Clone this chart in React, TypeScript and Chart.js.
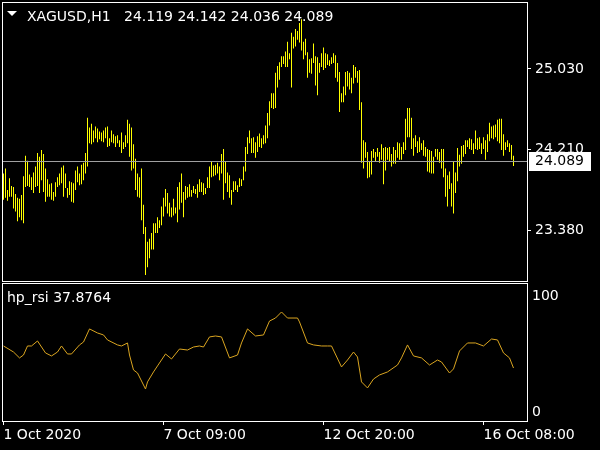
import React, { useEffect, useRef } from "react";
import { Chart, registerables } from "chart.js";

Chart.register(...registerables);

const symbol = "XAGUSD,H1";
// last bar: open, high, low, close
const lastBar = [24.119, 24.142, 24.036, 24.089];

const highs = [
  23.96, 24.01, 23.79, 23.91, 23.83, 23.82, 23.75, 23.71, 23.70, 23.74,
  23.93, 24.14, 24.09, 23.95, 23.92, 23.97, 24.03, 24.17, 24.13, 24.20,
  24.16, 24.01, 23.90, 23.85, 23.86, 23.77, 23.87, 23.92, 23.96, 24.02,
  24.04, 23.96, 23.81, 23.88, 23.87, 23.86, 23.99, 24.03, 23.96, 24.05,
  24.07, 24.17, 24.53, 24.43,
  24.47, 24.40, 24.44, 24.42, 24.39, 24.38, 24.40, 24.43, 24.44, 24.32,
  24.40, 24.36, 24.34, 24.35, 24.30, 24.38, 24.28, 24.35, 24.51, 24.47,
  24.43, 24.26, 24.11, 23.96, 23.92, 24.01, 23.64, 23.41, 23.26, 23.29,
  23.35, 23.45, 23.45, 23.51, 23.48, 23.62, 23.71, 23.80, 23.76, 23.66,
  23.61, 23.70, 23.61, 23.82,
  23.87, 23.96, 23.77, 23.83, 23.82, 23.85, 23.79, 23.83, 23.80, 23.85,
  23.90, 23.87, 23.86, 23.81, 23.92, 24.03, 24.08, 24.04, 24.05, 24.07,
  24.03, 24.16, 24.21, 24.08, 23.97, 23.94, 23.79, 23.88, 23.88, 23.84,
  23.91, 23.90, 24.03, 24.23, 24.33, 24.40, 24.32, 24.33, 24.28, 24.34,
  24.37, 24.32, 24.35, 24.45,
  24.58, 24.70, 24.78, 24.78, 24.99, 25.06, 25.10, 25.16, 25.16, 25.21,
  25.31, 25.19, 25.40, 25.36, 25.44, 25.42, 25.50, 25.54, 25.31, 25.34,
  25.20, 25.13, 25.14, 25.29, 25.16, 25.15, 25.09, 25.19, 25.25, 25.19,
  25.18, 25.12, 25.15, 25.19, 25.17, 25.09, 25.00, 24.78, 24.85, 25.00,
  25.01, 24.99, 24.94, 25.07,
  25.05, 25.01, 25.02, 24.69, 24.30, 24.28, 24.18, 24.08, 24.19, 24.21,
  24.18, 24.22, 24.18, 24.26, 24.22, 24.23, 24.22, 24.23, 24.16, 24.23,
  24.20, 24.28, 24.27, 24.23, 24.28, 24.52, 24.63, 24.63, 24.53, 24.32,
  24.35, 24.29, 24.33, 24.27, 24.30, 24.23, 24.21, 24.20, 24.19, 24.13,
  24.21, 24.21, 24.18, 24.21,
  24.21, 24.01, 23.94, 23.98, 23.86, 24.08, 23.97, 24.22, 24.15, 24.24,
  24.25, 24.30, 24.30, 24.32, 24.31, 24.27, 24.40, 24.32, 24.33, 24.27,
  24.33, 24.30, 24.36, 24.48, 24.44, 24.45, 24.46, 24.51, 24.52, 24.52,
  24.36, 24.28, 24.30, 24.27, 24.25, 24.142,
];

const lows = [
  23.69, 23.71, 23.68, 23.72, 23.72, 23.60, 23.57, 23.47, 23.51, 23.48,
  23.45, 23.82, 23.83, 23.82, 23.79, 23.76, 23.82, 23.83, 23.76, 23.89,
  23.77, 23.67, 23.72, 23.72, 23.69, 23.68, 23.72, 23.82, 23.84, 23.86,
  23.72, 23.81, 23.71, 23.74, 23.67, 23.66, 23.79, 23.87, 23.84, 23.85,
  23.89, 23.96, 24.03, 24.27,
  24.26, 24.28, 24.32, 24.28, 24.31, 24.29, 24.28, 24.32, 24.23, 24.24,
  24.28, 24.27, 24.23, 24.27, 24.23, 24.17, 24.21, 24.23, 24.27, 24.13,
  23.99, 24.01, 23.79, 23.72, 23.71, 23.48, 23.34, 22.92, 23.00, 23.09,
  23.18, 23.18, 23.35, 23.35, 23.40, 23.43, 23.52, 23.62, 23.55, 23.52,
  23.51, 23.53, 23.55, 23.46,
  23.59, 23.66, 23.51, 23.69, 23.71, 23.72, 23.72, 23.76, 23.75, 23.71,
  23.77, 23.77, 23.74, 23.75, 23.81, 23.81, 23.92, 23.93, 23.94, 23.96,
  23.89, 23.96, 23.69, 23.86, 23.77, 23.71, 23.64, 23.77, 23.79, 23.77,
  23.82, 23.83, 23.89, 23.98, 24.16, 24.27, 24.17, 24.17, 24.12, 24.18,
  24.23, 24.22, 24.26, 24.27,
  24.32, 24.45, 24.63, 24.62, 24.63, 24.84, 24.92, 25.05, 25.08, 25.05,
  25.05, 25.13, 24.84, 25.24, 25.26, 25.33, 25.30, 25.22, 25.13, 25.17,
  24.94, 24.99, 24.98, 25.09, 24.86, 24.76, 24.99, 25.05, 25.02, 25.04,
  25.07, 25.06, 25.08, 25.09, 24.94, 24.90, 24.59, 24.69, 24.69, 24.76,
  24.85, 24.82, 24.78, 24.88,
  24.94, 24.89, 24.61, 24.07, 24.01, 24.12, 23.91, 23.92, 23.95, 24.12,
  24.08, 24.13, 24.07, 24.10, 23.85, 23.99, 24.10, 24.08, 24.03, 24.06,
  24.06, 24.12, 24.10, 24.10, 24.16, 24.20, 24.33, 24.33, 24.21, 24.14,
  24.23, 24.17, 24.18, 24.20, 24.14, 24.13, 23.98, 23.97, 23.96, 23.96,
  24.13, 24.10, 24.07, 24.01,
  23.92, 23.72, 23.62, 23.80, 23.62, 23.55, 23.76, 23.88, 24.03, 24.06,
  24.13, 24.16, 24.23, 24.21, 24.20, 24.16, 24.21, 24.20, 24.21, 24.16,
  24.21, 24.10, 24.18, 24.29, 24.32, 24.31, 24.33, 24.29, 24.27, 24.20,
  24.14, 24.20, 24.23, 24.18, 24.10, 24.036,
];

const priceTicks = [23.38, 24.21, 25.03];
const priceMin = 22.858;
const priceMax = 25.716;

const rsiName = "hp_rsi";
const rsiBars = [
  0, 5, 8, 10, 12, 14, 17, 21, 24, 27, 29, 32, 34, 38, 40, 43, 47, 50, 52, 57,
  59, 62, 63, 65, 67, 71, 72, 75, 77, 81, 84, 88, 92, 95, 98, 100, 103, 106, 109, 113,
  117, 119, 122, 126, 130, 133, 136, 139, 142, 147, 148, 152, 155, 159, 162, 164, 169, 172, 175, 177,
  179, 182, 185, 188, 192, 197, 199, 202, 205, 209, 213, 217, 219, 223, 225, 228, 232, 236, 240, 244,
  247, 250, 253, 255,
];
const rsiValues = [
  56.9, 51.7, 46.6, 49.1, 56.9, 56.9, 61.2, 50.9, 48.3, 51.7, 56.9, 50.0, 50.0, 57.8, 60.3, 71.6, 68.1, 66.4, 62.1, 57.8,
  56.9, 59.5, 49.1, 36.2, 33.6, 19.8, 25.9, 34.5, 39.7, 50.0, 45.7, 54.3, 53.4, 56.0, 56.9, 56.0, 64.7, 65.5, 64.7, 46.6,
  49.1, 59.5, 71.6, 65.5, 66.4, 78.4, 81.0, 86.2, 81.0, 81.0, 77.6, 59.5, 57.8, 56.9, 56.9, 56.9, 38.8, 44.8, 51.7, 47.4,
  25.9, 20.7, 28.4, 31.9, 34.5, 40.5, 46.6, 57.8, 48.3, 46.6, 40.5, 44.8, 43.1, 33.6, 37.1, 52.6, 59.5, 59.5, 56.9, 62.9,
  62.1, 50.9, 46.6, 37.8764,
];
const rsiTicks = [0, 100];
const rsiMin = -7.8;
const rsiMax = 111.2;

const xTickBars = [0, 80, 160, 240];
const xTickLabels = ["1 Oct 2020", "7 Oct 09:00", "12 Oct 20:00", "16 Oct 08:00"];
const xMin = -0.75;
const xMax = 261.75;

const FONT = "DejaVu Sans";
const BAR_COLOR = "#ffff00";
const RSI_COLOR = "#DAA520";
const TEXT_COLOR = "#ffffff";

const mainPlugin = {
  id: "mainDecor",
  afterDraw(chart: any) {
    const ctx = chart.ctx;
    const a = chart.chartArea;
    const ys = chart.scales.y;
    ctx.save();
    // current price line
    const close = lastBar[3];
    const py = Math.round(ys.getPixelForValue(close)) + 0.5;
    ctx.strokeStyle = "#a0a0a0";
    ctx.lineWidth = 1;
    ctx.beginPath();
    ctx.moveTo(a.left + 1, py);
    ctx.lineTo(a.right, py);
    ctx.stroke();
    // price label box
    ctx.fillStyle = "#ffffff";
    ctx.fillRect(a.right + 2, py - 9.5, 62, 19);
    ctx.fillStyle = "#000000";
    ctx.font = `14px "${FONT}"`;
    ctx.textBaseline = "middle";
    ctx.textAlign = "left";
    ctx.fillText(close.toFixed(3), a.right + 8, py);
    // frame
    ctx.strokeStyle = "#ffffff";
    ctx.strokeRect(a.left + 0.5, a.top + 0.5, a.right - a.left, a.bottom - a.top);
    // header
    ctx.fillStyle = "#ffffff";
    ctx.beginPath();
    ctx.moveTo(a.left + 5, a.top + 9);
    ctx.lineTo(a.left + 15, a.top + 9);
    ctx.lineTo(a.left + 10, a.top + 14);
    ctx.closePath();
    ctx.fill();
    ctx.fillStyle = TEXT_COLOR;
    ctx.textBaseline = "alphabetic";
    ctx.fillText(symbol, a.left + 25, a.top + 19);
    ctx.fillText(lastBar.map((v) => v.toFixed(3)).join(" "), a.left + 122, a.top + 19);
    ctx.restore();
  },
};

const rsiPlugin = {
  id: "rsiDecor",
  afterDraw(chart: any) {
    const ctx = chart.ctx;
    const a = chart.chartArea;
    ctx.save();
    ctx.strokeStyle = "#ffffff";
    ctx.lineWidth = 1;
    ctx.strokeRect(a.left + 0.5, a.top + 0.5, a.right - a.left, a.bottom - a.top);
    ctx.fillStyle = TEXT_COLOR;
    ctx.font = `14px "${FONT}"`;
    ctx.textBaseline = "alphabetic";
    ctx.textAlign = "left";
    const last = rsiValues[rsiValues.length - 1];
    ctx.fillText(`${rsiName} ${last.toFixed(4)}`, a.left + 5, a.top + 19);
    ctx.restore();
  },
};

export default function App() {
  const mainRef = useRef<HTMLCanvasElement>(null);
  const rsiRef = useRef<HTMLCanvasElement>(null);

  useEffect(() => {
    const main = new Chart(mainRef.current as HTMLCanvasElement, {
      type: "bar",
      data: {
        datasets: [
          {
            data: highs.map((h, i) => ({ x: i, y: [lows[i], h] })) as any,
            backgroundColor: BAR_COLOR,
            borderWidth: 0,
            barThickness: 1,
            inflateAmount: 0,
          } as any,
        ],
      },
      options: {
        responsive: false,
        animation: false,
        devicePixelRatio: 1,
        layout: { padding: { left: 2, top: 2, right: 0, bottom: 169 } },
        plugins: { legend: { display: false }, tooltip: { enabled: false } },
        scales: {
          x: { type: "linear", display: false, min: xMin, max: xMax, offset: false },
          y: {
            position: "right",
            min: priceMin,
            max: priceMax,
            afterBuildTicks: (s: any) => {
              s.ticks = priceTicks.map((v) => ({ value: v }));
            },
            afterFit: (s: any) => {
              s.width = 73;
              s.paddingTop = 0;
              s.paddingBottom = 0;
            },
            grid: { drawOnChartArea: false, color: "#ffffff", tickLength: 4, lineWidth: 1 },
            border: { display: false },
            ticks: {
              color: TEXT_COLOR,
              font: { family: FONT, size: 14 },
              padding: 4,
              callback: (v: any) => Number(v).toFixed(3),
            },
          },
        },
      } as any,
      plugins: [mainPlugin],
    });

    const rsi = new Chart(rsiRef.current as HTMLCanvasElement, {
      type: "line",
      data: {
        datasets: [
          {
            data: rsiBars.map((b, k) => ({ x: b, y: rsiValues[k] })),
            borderColor: RSI_COLOR,
            borderWidth: 1,
            pointRadius: 0,
            tension: 0,
            fill: false,
          },
        ],
      },
      options: {
        responsive: false,
        animation: false,
        devicePixelRatio: 1,
        layout: { padding: { left: 2, top: 283, right: 0, bottom: 0 } },
        plugins: { legend: { display: false }, tooltip: { enabled: false } },
        scales: {
          x: {
            type: "linear",
            position: "bottom",
            min: xMin,
            max: xMax,
            afterBuildTicks: (s: any) => {
              s.ticks = xTickBars.map((v) => ({ value: v }));
            },
            afterFit: (s: any) => {
              s.height = 29;
              s.paddingLeft = 0;
              s.paddingRight = 0;
            },
            grid: { drawOnChartArea: false, color: "#ffffff", tickLength: 4, lineWidth: 1 },
            border: { display: false },
            ticks: {
              color: TEXT_COLOR,
              font: { family: FONT, size: 14 },
              padding: 2,
              align: "start",
              maxRotation: 0,
              minRotation: 0,
              autoSkip: false,
              callback: (_v: any, i: number) => xTickLabels[i],
            },
          },
          y: {
            position: "right",
            min: rsiMin,
            max: rsiMax,
            afterBuildTicks: (s: any) => {
              s.ticks = rsiTicks.map((v) => ({ value: v }));
            },
            afterFit: (s: any) => {
              s.width = 73;
              s.paddingTop = 0;
              s.paddingBottom = 0;
            },
            grid: { display: false, drawTicks: false },
            border: { display: false },
            ticks: {
              color: TEXT_COLOR,
              font: { family: FONT, size: 14 },
              padding: 5,
              callback: (v: any) => String(v),
            },
          },
        },
      } as any,
      plugins: [rsiPlugin],
    });

    return () => {
      main.destroy();
      rsi.destroy();
    };
  }, []);

  return (
    <div
      style={{
        position: "fixed",
        left: 0,
        top: 0,
        width: 600,
        height: 450,
        background: "#000000",
        overflow: "hidden",
      }}
    >
      <canvas ref={mainRef} width={600} height={450} style={{ position: "absolute", left: 0, top: 0 }} />
      <canvas ref={rsiRef} width={600} height={450} style={{ position: "absolute", left: 0, top: 0 }} />
    </div>
  );
}
